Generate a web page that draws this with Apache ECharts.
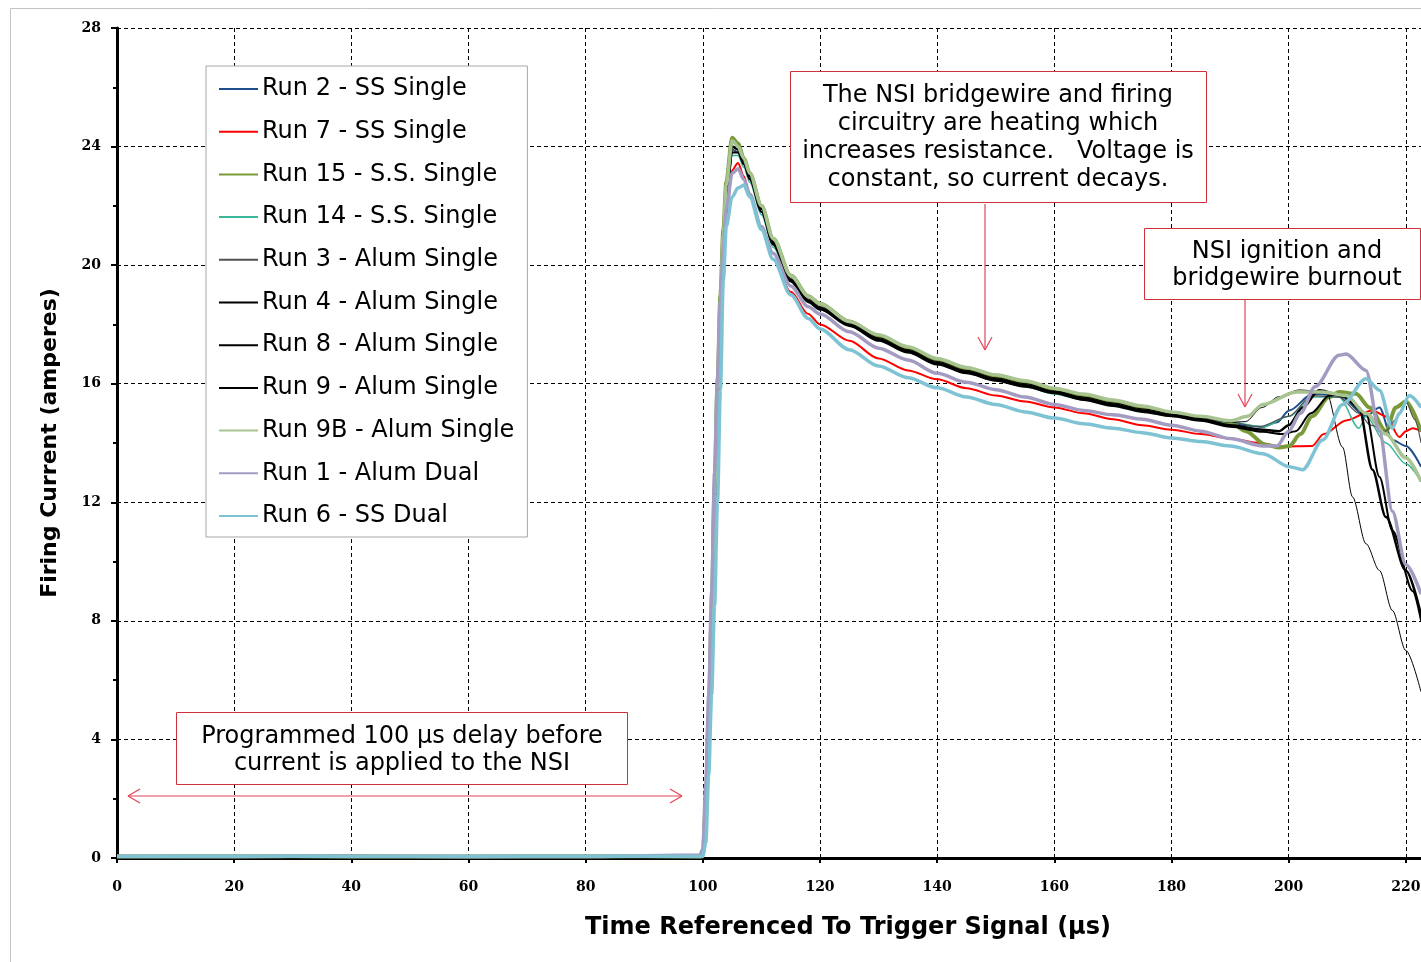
<!DOCTYPE html>
<html>
<head>
<meta charset="utf-8">
<title>Firing Current</title>
<script src="https://cdn.jsdelivr.net/npm/echarts@6.0.0/dist/echarts.min.js"></script>
<style>
  html, body { margin: 0; padding: 0; background: #fff; }
  #chart { width: 1421px; height: 962px; }
</style>
</head>
<body>
<div id="chart"></div>
<script>
// time axis shared by every run up to 185 us
const t = [0, 20, 40, 60, 80, 99.5, 100, 100.5, 101, 101.5, 102, 102.5, 103, 103.5, 104, 105, 106, 107, 108, 110, 112, 115, 118, 120, 125, 130, 135, 140, 145, 150, 155, 160, 165, 170, 175, 180, 185];

const xTicks = [0, 20, 40, 60, 80, 100, 120, 140, 160, 180, 200, 220, 240];
const yTicks = [0, 4, 8, 12, 16, 20, 24, 28];

const names = ["Run 2 - SS Single", "Run 7 - SS Single", "Run 15 - S.S. Single", "Run 14 - S.S. Single",
  "Run 3 - Alum Single", "Run 4 - Alum Single", "Run 8 - Alum Single", "Run 9 - Alum Single",
  "Run 9B - Alum Single", "Run 1 - Alum Dual", "Run 6 - SS Dual"];

// current (A) at each t
const run2 = [0.05,0.05,0.06,0.05,0.05,0.05, 0.09,1.5,4.3,7.7,11.9,15.4,18.3,20.5,22.1,23.9,23.8,23.4,22.9,21.8,20.7,19.5,18.8,18.55,18.0,17.5,17.1,16.7,16.4,16.15,15.95,15.72,15.5,15.3,15.1,14.95,14.8];
const run7 = [0.05,0.05,0.05,0.05,0.05,0.05, 0.06,1.0,3.5,6.8,11.0,14.6,17.6,19.9,21.6,23.2,23.45,23.0,22.4,21.2,20.2,19.1,18.35,18.0,17.45,16.85,16.45,16.15,15.85,15.6,15.4,15.2,15.0,14.8,14.6,14.45,14.3];
const run15 = [0.05,0.06,0.05,0.05,0.06,0.05, 0.1,1.8,4.8,8.2,12.5,16.0,19.0,21.2,22.8,24.3,24.1,23.6,23.1,22.0,20.9,19.65,18.95,18.7,18.1,17.6,17.2,16.8,16.5,16.25,16.05,15.8,15.6,15.4,15.2,15.0,14.85];
const run14 = [0.05,0.06,0.05,0.05,0.05,0.05, 0.08,1.4,4.1,7.5,11.7,15.2,18.1,20.3,21.9,23.7,23.7,23.3,22.8,21.7,20.6,19.45,18.75,18.5,17.95,17.45,17.05,16.65,16.35,16.1,15.9,15.65,15.45,15.25,15.05,14.9,14.75];
const run3 = [0.08,0.06,0.07,0.05,0.06,0.07, 0.1,1.6,4.5,7.9,12.1,15.6,18.5,20.7,22.2,23.9,23.8,23.4,22.9,21.8,20.7,19.5,18.8,18.55,18.0,17.5,17.1,16.7,16.4,16.15,15.95,15.7,15.5,15.3,15.1,14.95,14.8];
const run4 = [0.06,0.05,0.07,0.05,0.06,0.05, 0.1,1.6,4.4,7.8,12.0,15.5,18.4,20.6,22.2,24.0,23.9,23.5,23.0,21.9,20.75,19.5,18.8,18.55,18.0,17.5,17.1,16.7,16.4,16.15,15.95,15.72,15.5,15.3,15.1,14.95,14.8];
const run8 = [0.06,0.07,0.05,0.06,0.07,0.06, 0.1,1.7,4.6,8.0,12.2,15.7,18.6,20.8,22.3,24.0,23.9,23.5,23.0,21.9,20.8,19.55,18.85,18.6,18.05,17.55,17.15,16.75,16.45,16.2,16.0,15.75,15.55,15.35,15.15,15.0,14.85];
const run9 = [0.05,0.07,0.05,0.06,0.05,0.06, 0.08,1.3,4.0,7.4,11.6,15.2,18.2,20.4,22.0,23.8,23.8,23.4,22.9,21.8,20.7,19.45,18.75,18.5,17.95,17.45,17.05,16.65,16.35,16.1,15.9,15.68,15.45,15.25,15.05,14.9,14.75];
const run9b = [0.06,0.05,0.06,0.05,0.05,0.06, 0.1,1.7,4.6,8.0,12.3,15.8,18.8,21.0,22.7,24.2,24.0,23.6,23.1,22.0,20.9,19.65,18.95,18.7,18.1,17.65,17.25,16.85,16.55,16.3,16.1,15.85,15.65,15.45,15.25,15.05,14.9];
const run1 = [0.06,0.05,0.06,0.05,0.05,0.1, 0.3,2.5,5.5,9.0,13.0,16.2,18.8,20.6,21.9,23.1,23.25,22.9,22.4,21.3,20.4,19.3,18.6,18.35,17.75,17.2,16.8,16.35,16.05,15.8,15.55,15.3,15.1,14.95,14.8,14.6,14.4];
const run6 = [0.05,0.06,0.05,0.05,0.06,0.05, 0.05,0.5,2.8,5.5,8.5,12.0,15.8,19.5,21.3,22.3,22.6,22.7,22.3,21.2,20.2,19.0,18.2,17.85,17.15,16.6,16.2,15.86,15.55,15.3,15.05,14.84,14.65,14.5,14.35,14.17,14.05];

// ignition / burnout part, [t, current]
const tail2 = [[190,14.65],[195.6,14.54],[198,14.7],[200.1,15.1],[204.1,15.66],[208.6,15.6],[213.2,14.9],[215.5,15.2],[217.7,14.1],[220,13.9],[222.6,13.2]];
const tail7 = [[190,14.15],[195,14.0],[198.4,13.88],[204,13.9],[206,14.3],[209.8,14.76],[214.3,15.1],[216.6,14.9],[218.9,14.2],[220,14.4],[221.2,14.5],[222.6,14.4]];
const tail15 = [[190,14.7],[192.7,14.4],[196,13.95],[198.4,13.85],[200.1,13.9],[202,14.3],[204,14.9],[206.9,15.55],[208.6,15.72],[211.5,15.66],[213.8,15.2],[216.6,14.4],[218.3,15.2],[220,15.4],[222.6,14.4]];
const tail14 = [[190,14.7],[195.6,14.55],[200.1,14.9],[204.1,15.55],[208.6,15.55],[212,14.5],[213.2,14.9],[216.6,14.0],[220,13.3],[222.6,12.7]];
const tail3 = [[190,14.7],[195,14.55],[200,14.9],[204,15.6],[208.6,15.55],[212,15.0],[214,14.6],[216.6,14.4],[218.3,14.8],[220,15.4],[221.5,14.8],[222.6,14.0]];
const tail4 = [[190,14.6],[195.6,14.45],[198.4,14.4],[200,14.6],[202.4,15.2],[205.2,15.78],[209.8,15.55],[212,15.2],[214.3,13.1],[216.6,11.5],[220,9.7],[222.6,8.2]];
const tail8 = [[190,14.7],[192.6,14.72],[195.5,15.2],[198.3,15.56],[201.8,15.79],[206.4,15.72],[209.2,13.86],[210.9,12.18],[213.2,10.6],[215.5,9.7],[217.7,8.35],[220,7.0],[222.6,5.6]];
const tail9 = [[190,14.55],[195.6,14.38],[199,14.3],[201.2,14.4],[203.8,15.0],[207,15.6],[208.6,15.66],[213.2,15.0],[215.5,12.85],[217.7,11.05],[221.2,9.0],[222.6,8.0]];
const tail9b = [[190,14.75],[193,14.9],[195.6,15.3],[201.3,15.72],[205.8,15.72],[209.8,15.6],[213.2,15.0],[216.6,14.3],[220,13.5],[222.6,12.7]];
const tail1 = [[190,14.15],[195.6,13.9],[198,13.9],[200,14.4],[202,15.0],[204.5,15.9],[208.6,16.96],[209.8,17.0],[213.2,16.45],[215.5,14.4],[217.7,11.7],[220,9.9],[222.6,8.9]];
const tail6 = [[190,13.9],[195.6,13.64],[200.1,13.2],[202.4,13.1],[205.8,14.1],[209.2,15.3],[213.2,16.17],[215.5,15.78],[217.7,14.5],[218.9,15.0],[220.6,15.6],[222.6,15.2]];

const runs = [run2, run7, run15, run14, run3, run4, run8, run9, run9b, run1, run6];
const tails = [tail2, tail7, tail15, tail14, tail3, tail4, tail8, tail9, tail9b, tail1, tail6];
const colors = ["#1f4e8a", "#ff0000", "#7a9a3a", "#3db59a", "#505050", "#000000", "#000000", "#000000", "#a8c490", "#a39bc2", "#7ec3d4"];
const widths = [2, 2, 4, 1.5, 1.2, 2.5, 1, 2, 3.5, 3.5, 3.5];

const red = "#d0303c";
const arrowRed = "#e04658";
const textFont = '24px "DejaVu Sans", Verdana, sans-serif';

function line(x1, y1, x2, y2, color) {
  return { type: "line", shape: { x1, y1, x2, y2 }, style: { stroke: color, lineWidth: 1.2 }, z: 10 };
}

const chart = echarts.init(document.getElementById("chart"), null, { renderer: "canvas" });

chart.setOption({
  animation: false,
  backgroundColor: "#fff",
  grid: { left: 117, top: 28, width: 1406, height: 830, outerBoundsMode: "none", containLabel: false },
  legend: {
    orient: "vertical",
    left: 206,
    top: 66,
    data: names,
    backgroundColor: "#fff",
    borderColor: "#a6a6a6",
    borderWidth: 1,
    padding: [11, 13, 9, 12],
    itemWidth: 39,
    itemHeight: 14,
    itemGap: 18.7,
    itemStyle: { opacity: 0 },
    textStyle: { fontFamily: '"DejaVu Sans", Verdana, sans-serif', fontSize: 24, color: "#000", padding: [0, 0, 0, -1] },
    z: 20
  },
  xAxis: {
    type: "value",
    min: 0,
    max: 240,
    interval: 20,
    axisLine: { lineStyle: { color: "#000", width: 3 } },
    axisTick: { show: true, length: 5, lineStyle: { color: "#000", width: 2 } },
    axisLabel: {
      margin: 22,
      color: "#000",
      fontFamily: '"DejaVu Serif", serif',
      fontWeight: "bold",
      fontSize: 14,
      formatter: (v) => (xTicks.includes(v) ? String(v) : "")
    },
    splitLine: { show: true, lineStyle: { color: "#000", width: 1, type: [4, 3] } }
  },
  yAxis: {
    type: "value",
    min: 0,
    max: 28,
    interval: 4,
    axisLine: { show: true, lineStyle: { color: "#000", width: 3 } },
    axisTick: { show: true, length: 6, lineStyle: { color: "#000", width: 2 } },
    minorTick: { show: true, splitNumber: 2, length: 4, lineStyle: { color: "#000", width: 2 } },
    axisLabel: {
      margin: 16,
      color: "#000",
      fontFamily: '"DejaVu Serif", serif',
      fontWeight: "bold",
      fontSize: 14,
      formatter: (v) => (yTicks.includes(v) ? String(v) : "")
    },
    splitLine: { show: true, lineStyle: { color: "#000", width: 1, type: [4, 3] } }
  },
  series: names.map((name, i) => ({
    name: name,
    type: "line",
    symbol: "none",
    smooth: 0.3,
    smoothMonotone: "x",
    data: t.map((x, k) => [x, runs[i][k]]).concat(tails[i]),
    lineStyle: { color: colors[i], width: widths[i] },
    itemStyle: { color: colors[i] },
    z: 3 + i
  })),
  graphic: [
    // outer frame
    { type: "rect", shape: { x: 10.5, y: 8.5, width: 1500, height: 1000 }, style: { fill: null, stroke: "#c4c4c4", lineWidth: 1 }, z: 0, silent: true },
    // axis titles
    {
      type: "text", x: 50, y: 443, rotation: Math.PI / 2,
      style: { text: "Firing Current (amperes)", font: 'bold 22px "DejaVu Sans", Tahoma, sans-serif', fill: "#000", textAlign: "center", textVerticalAlign: "middle" }
    },
    {
      type: "text", x: 848, y: 928,
      style: { text: "Time Referenced To Trigger Signal (\u00b5s)", font: 'bold 24px "DejaVu Sans", Tahoma, sans-serif', fill: "#000", textAlign: "center", textVerticalAlign: "middle" }
    },
    // heating note
    { type: "rect", shape: { x: 790.5, y: 71.5, width: 416, height: 131 }, style: { fill: "#fff", stroke: red, lineWidth: 1 }, z: 10 },
    {
      type: "text", x: 998, y: 138, z: 11,
      style: {
        text: "The NSI bridgewire and firing\ncircuitry are heating which\nincreases resistance.   Voltage is\nconstant, so current decays.",
        font: textFont, lineHeight: 28, fill: "#000", textAlign: "center", textVerticalAlign: "middle"
      }
    },
    line(985, 204, 985, 350, arrowRed), line(978, 337, 985, 350, arrowRed), line(992, 337, 985, 350, arrowRed),
    // burnout note
    { type: "rect", shape: { x: 1144.5, y: 228.5, width: 276, height: 71 }, style: { fill: "#fff", stroke: red, lineWidth: 1 }, z: 10 },
    {
      type: "text", x: 1287, y: 265.5, z: 11,
      style: { text: "NSI ignition and\nbridgewire burnout", font: textFont, lineHeight: 27, fill: "#000", textAlign: "center", textVerticalAlign: "middle" }
    },
    line(1245, 300, 1245, 407, arrowRed), line(1238, 394, 1245, 407, arrowRed), line(1252, 394, 1245, 407, arrowRed),
    // delay note
    { type: "rect", shape: { x: 176.5, y: 712.5, width: 451, height: 72 }, style: { fill: "#fff", stroke: red, lineWidth: 1 }, z: 10 },
    {
      type: "text", x: 402, y: 750.5, z: 11,
      style: { text: "Programmed 100 \u00b5s delay before\ncurrent is applied to the NSI", font: textFont, lineHeight: 27, fill: "#000", textAlign: "center", textVerticalAlign: "middle" }
    },
    line(128, 796, 682, 796, arrowRed),
    line(140, 789, 128, 796, arrowRed), line(140, 803, 128, 796, arrowRed),
    line(670, 789, 682, 796, arrowRed), line(670, 803, 682, 796, arrowRed)
  ]
});
</script>
</body>
</html>
